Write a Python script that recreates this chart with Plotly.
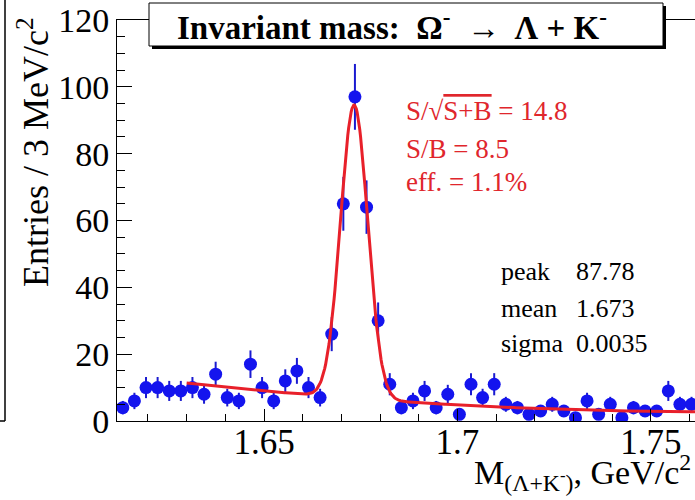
import numpy as np
import plotly.graph_objects as go

# ---------------- data ----------------
bin_low = 1.612          # GeV/c^2, lower edge of histogram
bin_width = 0.003        # 3 MeV/c^2
counts = [4, 6, 10, 10, 9, 9, 10, 8, 14, 7,
          6, 17, 10, 6, 12, 15, 10, 7, 26, 65,
          97, 64, 30, 11, 4, 6, 9, 4, 8, 2,
          11, 7, 11, 5, 4, 2, 3, 5, 3, 1,
          6, 2, 5, 1, 4, 3, 3, 9, 5, 5]

# fit parameters (gaussian shown in the stats box, background)
fit_peak = 87.78
fit_mean = 1.6733
fit_sigma = 0.0035
bkg_coef = [6.77, -85.8, 462.0]     # pol2 in (m - fit_mean)
fit_range = [1.630, 1.762]

x_range = [1.612, 1.7614]
y_range = [0, 120]
x_tickvals = [1.65, 1.70, 1.75]
x_ticktext = ["1.65", "1.7", "1.75"]
y_tickvals = [0, 20, 40, 60, 80, 100, 120]
y_ticktext = ["0", "20", "40", "60", "80", "100", "120"]

red_lines = ["S/√<span style='text-decoration:overline'>S+B</span> = 14.8",
             "S/B = 8.5",
             "eff. = 1.1%"]
stat_names = ["peak", "mean", "sigma"]
stat_values = ["87.78", "1.673", "0.0035"]

# ---------------- derived ----------------
centers = [bin_low + (i + 0.5) * bin_width for i in range(len(counts))]
errors = [np.sqrt(c) for c in counts]

m = np.linspace(fit_range[0], fit_range[1], 600)
u = m - fit_mean
fit_y = (fit_peak * np.exp(-0.5 * (u / fit_sigma) ** 2)
         + bkg_coef[0] + bkg_coef[1] * u + bkg_coef[2] * u ** 2)

W, H = 695, 500
L, R, T, B = 117, 0, 20, 79
PW, PH = W - L - R, H - T - B


def px(xp):
    return (xp - L) / PW


def py(yp):
    return (H - B - yp) / PH


SERIF = "Liberation Serif, Times New Roman, serif"

fig = go.Figure()
fig.add_trace(go.Scatter(
    x=centers, y=counts, mode="markers",
    marker=dict(color="#1414ee", size=13, line=dict(width=0)),
    error_y=dict(type="data", array=errors, visible=True,
                 color="#1a1ad0", thickness=2, width=0),
    showlegend=False, hoverinfo="x+y"))
fig.add_trace(go.Scatter(
    x=m, y=fit_y, mode="lines",
    line=dict(color="#e8202a", width=3),
    showlegend=False, hoverinfo="skip"))

annotations = []
# title
annotations.append(dict(
    text="<b>Invariant mass:  Ω<sup>-</sup>  →  Λ + K<sup>-</sup></b>",
    x=px(175), y=py(25), xref="paper", yref="paper",
    xanchor="left", yanchor="middle", showarrow=False,
    font=dict(family=SERIF, size=33, color="black")))
# red lines
for txt, yc in zip(red_lines, [111, 149, 182]):
    annotations.append(dict(
        text=txt, x=px(404), y=py(yc), xref="paper", yref="paper",
        xanchor="left", yanchor="middle", showarrow=False,
        font=dict(family=SERIF, size=27, color="#e0262c")))
# stats
for name, val, yc in zip(stat_names, stat_values, [271, 308, 343]):
    annotations.append(dict(
        text=name, x=px(499), y=py(yc), xref="paper", yref="paper",
        xanchor="left", yanchor="middle", showarrow=False,
        font=dict(family=SERIF, size=26, color="black")))
    annotations.append(dict(
        text=val, x=px(574), y=py(yc), xref="paper", yref="paper",
        xanchor="left", yanchor="middle", showarrow=False,
        font=dict(family=SERIF, size=26, color="black")))
# axis titles
annotations.append(dict(
    text="Entries / 3 MeV/c<sup>2</sup>", textangle=-90,
    x=px(33), y=py(152), xref="paper", yref="paper",
    xanchor="center", yanchor="middle", showarrow=False,
    font=dict(family=SERIF, size=36, color="black")))
annotations.append(dict(
    text="M<sub>(Λ+K<sup>-</sup>)</sub>, GeV/c<sup>2</sup>",
    x=px(472), y=py(473), xref="paper", yref="paper",
    xanchor="left", yanchor="middle", showarrow=False,
    font=dict(family=SERIF, size=34, color="black")))

shapes = [
    # title box shadow + box
    dict(type="rect", xref="paper", yref="paper",
         x0=px(152), x1=px(666), y0=py(49), y1=py(6),
         fillcolor="black", line=dict(width=0), layer="above"),
    dict(type="rect", xref="paper", yref="paper",
         x0=px(149), x1=px(663), y0=py(46), y1=py(3),
         fillcolor="white", line=dict(color="black", width=1), layer="above"),
    # frame fragment of the neighbouring panel
    dict(type="line", xref="paper", yref="paper",
         x0=px(5), x1=px(5), y0=py(0), y1=py(421),
         line=dict(color="black", width=1.5)),
    dict(type="line", xref="paper", yref="paper",
         x0=px(0), x1=px(5), y0=py(421), y1=py(421),
         line=dict(color="black", width=1.5)),
]

fig.update_layout(
    width=W, height=H,
    margin=dict(l=L, r=R, t=T, b=B, pad=0),
    paper_bgcolor="white", plot_bgcolor="white",
    font=dict(family=SERIF, color="black"),
    annotations=annotations, shapes=shapes,
    xaxis=dict(range=x_range, showgrid=False, zeroline=False,
               showline=True, linecolor="black", linewidth=1, mirror=True,
               ticks="inside", ticklen=12, tickwidth=1, tickcolor="black",
               tickvals=x_tickvals, ticktext=x_ticktext,
               ticklabelstandoff=-10,
               tickfont=dict(family=SERIF, size=35, color="black"),
               minor=dict(dtick=0.01, tick0=1.61, ticks="inside", ticklen=7,
                          tickcolor="black", tickwidth=1, showgrid=False)),
    yaxis=dict(range=y_range, showgrid=False, zeroline=False,
               showline=True, linecolor="black", linewidth=1,
               ticks="inside", ticklen=15, tickwidth=1, tickcolor="black",
               tickvals=y_tickvals, ticktext=y_ticktext,
               tickfont=dict(family=SERIF, size=34, color="black"),
               minor=dict(dtick=5, tick0=0, ticks="inside", ticklen=8,
                          tickcolor="black", tickwidth=1, showgrid=False)),
)

fig.write_html("out.html")
